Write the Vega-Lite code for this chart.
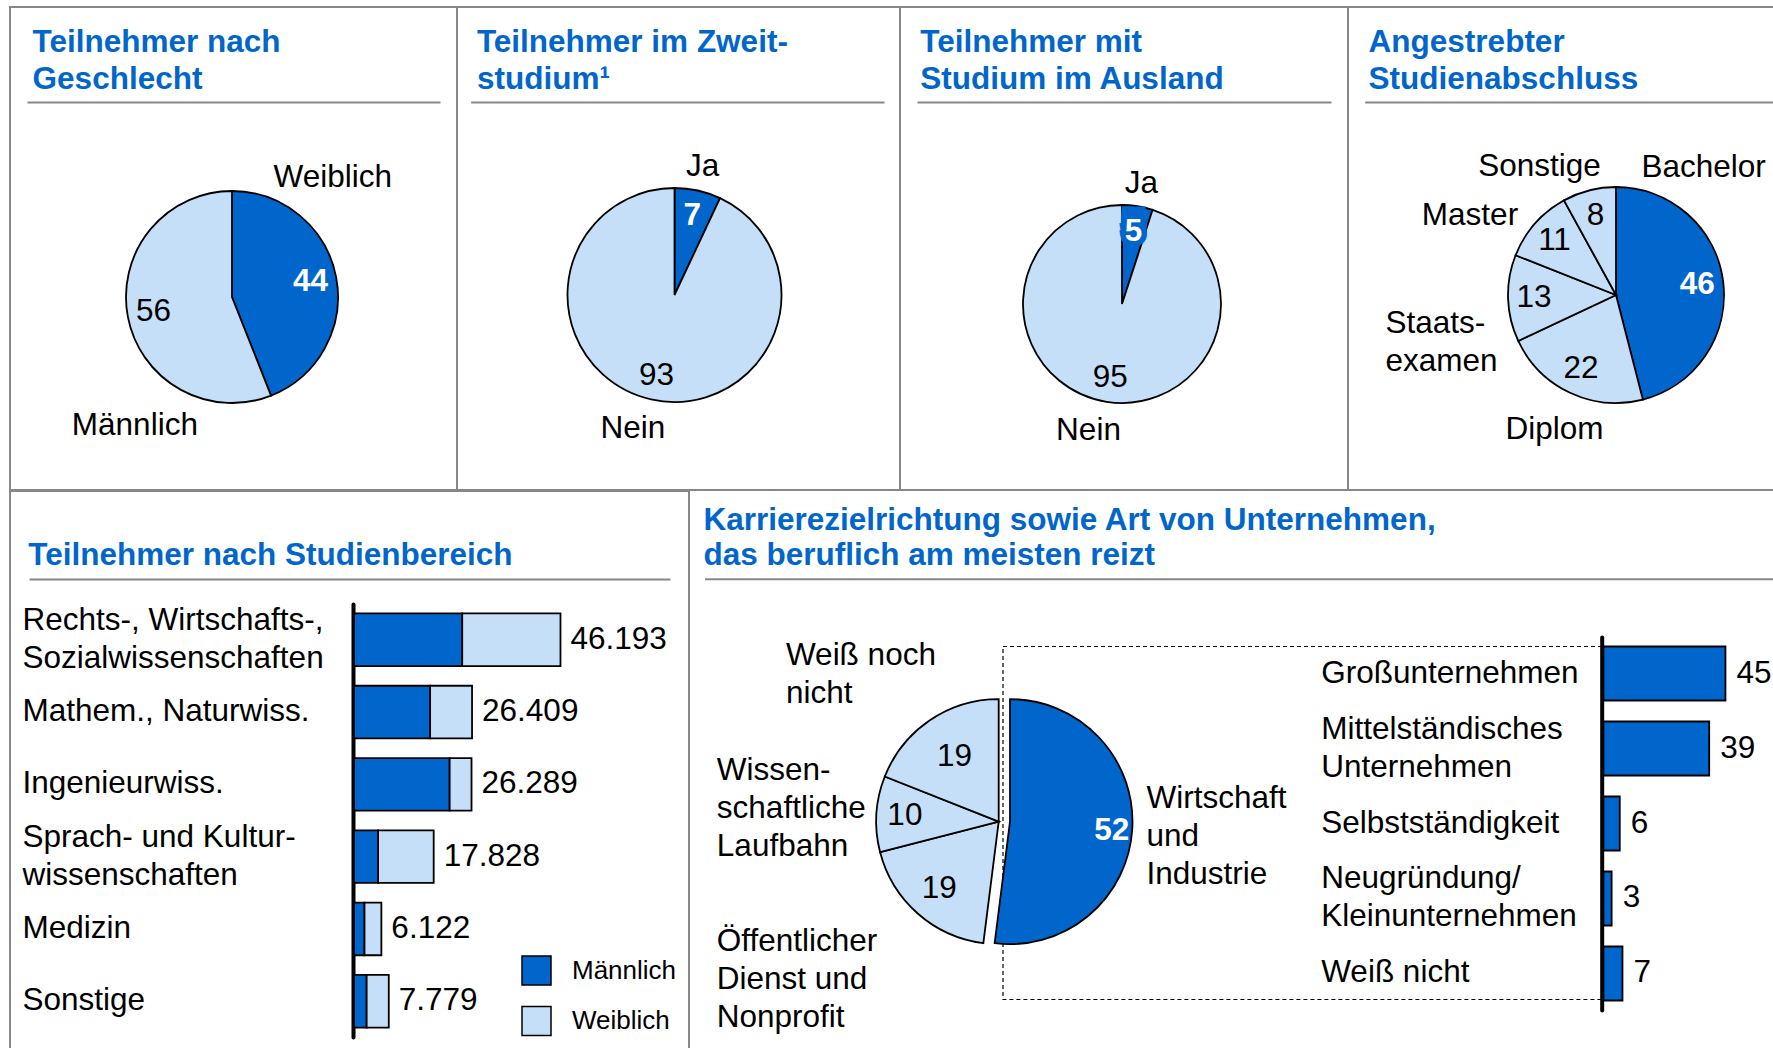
{
  "$schema": "https://vega.github.io/schema/vega-lite/v6.json",
  "background": "white",
  "padding": {"left": 9, "top": 6, "right": 0, "bottom": 0},
  "config": {
    "font": "Liberation Sans",
    "view": {"stroke": "#878787", "strokeWidth": 2},
    "text": {"font": "Liberation Sans", "fontSize": 31.5},
    "arc": {"stroke": "black", "strokeWidth": 1.8},
    "axis": {"labelFont": "Liberation Sans"},
    "legend": {"labelFont": "Liberation Sans"},
    "title": {"font": "Liberation Sans"},
    "locale": {"number": {"decimal": ",", "thousands": ".", "grouping": [3], "currency": ["", " €"]}}
  },
  "datasets": {
    "geschlecht": [
      {"Kategorie": "Weiblich", "Wert": 44, "n": 1},
      {"Kategorie": "Männlich", "Wert": 56, "n": 2}
    ],
    "zweitstudium": [
      {"Kategorie": "Ja", "Wert": 7, "n": 1},
      {"Kategorie": "Nein", "Wert": 93, "n": 2}
    ],
    "ausland": [
      {"Kategorie": "Ja", "Wert": 5, "n": 1},
      {"Kategorie": "Nein", "Wert": 95, "n": 2}
    ],
    "abschluss": [
      {"Kategorie": "Bachelor", "Wert": 46, "n": 1},
      {"Kategorie": "Diplom", "Wert": 22, "n": 2},
      {"Kategorie": "Staats-\nexamen", "Wert": 13, "n": 3},
      {"Kategorie": "Master", "Wert": 11, "n": 4},
      {"Kategorie": "Sonstige", "Wert": 8, "n": 5}
    ],
    "studienbereich": [
      {"Bereich": "Rechts-, Wirtschafts-,\nSozialwissenschaften", "Geschlecht": "Männlich", "Anzahl": 24210},
      {"Bereich": "Rechts-, Wirtschafts-,\nSozialwissenschaften", "Geschlecht": "Weiblich", "Anzahl": 21983},
      {"Bereich": "Mathem., Naturwiss.", "Geschlecht": "Männlich", "Anzahl": 17030},
      {"Bereich": "Mathem., Naturwiss.", "Geschlecht": "Weiblich", "Anzahl": 9379},
      {"Bereich": "Ingenieurwiss.", "Geschlecht": "Männlich", "Anzahl": 21400},
      {"Bereich": "Ingenieurwiss.", "Geschlecht": "Weiblich", "Anzahl": 4889},
      {"Bereich": "Sprach- und Kultur-\nwissenschaften", "Geschlecht": "Männlich", "Anzahl": 5390},
      {"Bereich": "Sprach- und Kultur-\nwissenschaften", "Geschlecht": "Weiblich", "Anzahl": 12438},
      {"Bereich": "Medizin", "Geschlecht": "Männlich", "Anzahl": 2350},
      {"Bereich": "Medizin", "Geschlecht": "Weiblich", "Anzahl": 3772},
      {"Bereich": "Sonstige", "Geschlecht": "Männlich", "Anzahl": 2830},
      {"Bereich": "Sonstige", "Geschlecht": "Weiblich", "Anzahl": 4949}
    ],
    "karriere": [
      {"Kategorie": "Wirtschaft\nund\nIndustrie", "Wert": 52, "n": 1},
      {"Kategorie": "Öffentlicher\nDienst und\nNonprofit", "Wert": 19, "n": 2},
      {"Kategorie": "Wissen-\nschaftliche\nLaufbahn", "Wert": 10, "n": 3},
      {"Kategorie": "Weiß noch\nnicht", "Wert": 19, "n": 4}
    ],
    "unternehmen": [
      {"Kat": "Großunternehmen", "Wert": 45},
      {"Kat": "Mittelständisches\nUnternehmen", "Wert": 39},
      {"Kat": "Selbstständigkeit", "Wert": 6},
      {"Kat": "Neugründung/\nKleinunternehmen", "Wert": 3},
      {"Kat": "Weiß nicht", "Wert": 7}
    ]
  },
  "vconcat": [
    {
      "hconcat": [
        {
          "width": 447, "height": 483,
          "data": {"name": "geschlecht"},
          "title": {"text": ["Teilnehmer nach", "Geschlecht"], "anchor": "start", "frame": "group", "baseline": "top", "offset": 0, "dx": 22.6, "dy": 88.2, "lineHeight": 37, "fontSize": 31.5, "fontWeight": "bold", "color": "#0066CC"},
          "layer": [
            {"mark": {"type": "rule", "opacity": 0}, "encoding": {"x": {"datum": 0, "type": "quantitative", "scale": {"domain": [0, 1], "range": [17, 430]}, "axis": {"orient": "top", "offset": -95, "domainColor": "#878787", "domainWidth": 2, "ticks": false, "labels": false, "grid": false, "title": null}}}},
            {"mark": {"type": "arc", "outerRadius": 106, "xOffset": -1.5, "yOffset": 48.5}, "encoding": {"theta": {"field": "Wert", "type": "quantitative", "stack": true}, "order": {"field": "n", "type": "quantitative"}, "color": {"field": "Kategorie", "type": "nominal", "scale": {"domain": ["Weiblich", "Männlich"], "range": ["#0066CC", "#C6DFF8"]}, "legend": null}}},
            {"mark": {"type": "text", "radius": 80, "xOffset": -1.5, "yOffset": 48.5, "fontWeight": "bold", "color": "white"}, "encoding": {"theta": {"field": "Wert", "type": "quantitative", "stack": true}, "order": {"field": "n", "type": "quantitative"}, "detail": {"field": "Kategorie", "type": "nominal"}, "text": {"condition": {"test": "datum.n === 1", "field": "Wert", "type": "quantitative"}, "value": ""}}},
            {"mark": {"type": "text", "radius": 80, "xOffset": -1.5, "yOffset": 48.5, "color": "black"}, "encoding": {"theta": {"field": "Wert", "type": "quantitative", "stack": true}, "order": {"field": "n", "type": "quantitative"}, "detail": {"field": "Kategorie", "type": "nominal"}, "text": {"condition": {"test": "datum.n === 2", "field": "Wert", "type": "quantitative"}, "value": ""}}},
            {"mark": {"type": "text", "radius": 106, "xOffset": -1.5, "yOffset": 48.5, "dx": -3.4, "dy": -98.9, "color": "black"}, "encoding": {"theta": {"field": "Wert", "type": "quantitative", "stack": true}, "order": {"field": "n", "type": "quantitative"}, "detail": {"field": "Kategorie", "type": "nominal"}, "text": {"condition": {"test": "datum.n === 1", "field": "Kategorie", "type": "nominal"}, "value": ""}}},
            {"mark": {"type": "text", "radius": 106, "xOffset": -1.5, "yOffset": 48.5, "dx": 7, "dy": 109.3, "color": "black"}, "encoding": {"theta": {"field": "Wert", "type": "quantitative", "stack": true}, "order": {"field": "n", "type": "quantitative"}, "detail": {"field": "Kategorie", "type": "nominal"}, "text": {"condition": {"test": "datum.n === 2", "field": "Kategorie", "type": "nominal"}, "value": ""}}}
          ]
        },
        {
          "width": 443, "height": 483,
          "data": {"name": "zweitstudium"},
          "title": {"text": ["Teilnehmer im Zweit-", "studium¹"], "anchor": "start", "frame": "group", "baseline": "top", "offset": 0, "dx": 19.9, "dy": 88.2, "lineHeight": 37, "fontSize": 31.5, "fontWeight": "bold", "color": "#0066CC"},
          "layer": [
            {"mark": {"type": "rule", "opacity": 0}, "encoding": {"x": {"datum": 0, "type": "quantitative", "scale": {"domain": [0, 1], "range": [13.7, 427]}, "axis": {"orient": "top", "offset": -95, "domainColor": "#878787", "domainWidth": 2, "ticks": false, "labels": false, "grid": false, "title": null}}}},
            {"mark": {"type": "arc", "outerRadius": 107, "xOffset": -4, "yOffset": 46.5}, "encoding": {"theta": {"field": "Wert", "type": "quantitative", "stack": true}, "order": {"field": "n", "type": "quantitative"}, "color": {"field": "Kategorie", "type": "nominal", "scale": {"domain": ["Ja", "Nein"], "range": ["#0066CC", "#C6DFF8"]}, "legend": null}}},
            {"mark": {"type": "text", "radius": 81, "xOffset": -4, "yOffset": 46.5, "fontWeight": "bold", "color": "white"}, "encoding": {"theta": {"field": "Wert", "type": "quantitative", "stack": true}, "order": {"field": "n", "type": "quantitative"}, "detail": {"field": "Kategorie", "type": "nominal"}, "text": {"condition": {"test": "datum.n === 1", "field": "Wert", "type": "quantitative"}, "value": ""}}},
            {"mark": {"type": "text", "radius": 83, "xOffset": -4, "yOffset": 46.5, "color": "black"}, "encoding": {"theta": {"field": "Wert", "type": "quantitative", "stack": true}, "order": {"field": "n", "type": "quantitative"}, "detail": {"field": "Kategorie", "type": "nominal"}, "text": {"condition": {"test": "datum.n === 2", "field": "Wert", "type": "quantitative"}, "value": ""}}},
            {"mark": {"type": "text", "radius": 107, "xOffset": -4, "yOffset": 46.5, "dx": 4.7, "dy": -23.6, "color": "black"}, "encoding": {"theta": {"field": "Wert", "type": "quantitative", "stack": true}, "order": {"field": "n", "type": "quantitative"}, "detail": {"field": "Kategorie", "type": "nominal"}, "text": {"condition": {"test": "datum.n === 1", "field": "Kategorie", "type": "nominal"}, "value": ""}}},
            {"mark": {"type": "text", "radius": 107, "xOffset": -4, "yOffset": 46.5, "dx": -18.2, "dy": 30, "color": "black"}, "encoding": {"theta": {"field": "Wert", "type": "quantitative", "stack": true}, "order": {"field": "n", "type": "quantitative"}, "detail": {"field": "Kategorie", "type": "nominal"}, "text": {"condition": {"test": "datum.n === 2", "field": "Kategorie", "type": "nominal"}, "value": ""}}}
          ]
        },
        {
          "width": 448, "height": 483,
          "data": {"name": "ausland"},
          "title": {"text": ["Teilnehmer mit", "Studium im Ausland"], "anchor": "start", "frame": "group", "baseline": "top", "offset": 0, "dx": 20.3, "dy": 88.2, "lineHeight": 37, "fontSize": 31.5, "fontWeight": "bold", "color": "#0066CC"},
          "layer": [
            {"mark": {"type": "rule", "opacity": 0}, "encoding": {"x": {"datum": 0, "type": "quantitative", "scale": {"domain": [0, 1], "range": [17, 431]}, "axis": {"orient": "top", "offset": -95, "domainColor": "#878787", "domainWidth": 2, "ticks": false, "labels": false, "grid": false, "title": null}}}},
            {"mark": {"type": "arc", "outerRadius": 99, "xOffset": -2, "yOffset": 55.5}, "encoding": {"theta": {"field": "Wert", "type": "quantitative", "stack": true}, "order": {"field": "n", "type": "quantitative"}, "color": {"field": "Kategorie", "type": "nominal", "scale": {"domain": ["Ja", "Nein"], "range": ["#0066CC", "#C6DFF8"]}, "legend": null}}},
            {"mark": {"type": "text", "radius": 73, "xOffset": -2, "yOffset": 55.5, "dy": -7, "fontWeight": "bold", "color": "#0066CC", "stroke": "#0066CC", "strokeWidth": 11, "strokeJoin": "miter"}, "encoding": {"theta": {"field": "Wert", "type": "quantitative", "stack": true}, "order": {"field": "n", "type": "quantitative"}, "detail": {"field": "Kategorie", "type": "nominal"}, "text": {"condition": {"test": "datum.n === 1", "field": "Wert", "type": "quantitative"}, "value": ""}}},
            {"mark": {"type": "text", "radius": 73, "xOffset": -2, "yOffset": 55.5, "fontWeight": "bold", "color": "#0066CC", "stroke": "#0066CC", "strokeWidth": 11, "strokeJoin": "miter"}, "encoding": {"theta": {"field": "Wert", "type": "quantitative", "stack": true}, "order": {"field": "n", "type": "quantitative"}, "detail": {"field": "Kategorie", "type": "nominal"}, "text": {"condition": {"test": "datum.n === 1", "field": "Wert", "type": "quantitative"}, "value": ""}}},
            {"mark": {"type": "text", "radius": 73, "xOffset": -2, "yOffset": 55.5, "fontWeight": "bold", "color": "white"}, "encoding": {"theta": {"field": "Wert", "type": "quantitative", "stack": true}, "order": {"field": "n", "type": "quantitative"}, "detail": {"field": "Kategorie", "type": "nominal"}, "text": {"condition": {"test": "datum.n === 1", "field": "Wert", "type": "quantitative"}, "value": ""}}},
            {"mark": {"type": "text", "radius": 75, "xOffset": -2, "yOffset": 55.5, "color": "black"}, "encoding": {"theta": {"field": "Wert", "type": "quantitative", "stack": true}, "order": {"field": "n", "type": "quantitative"}, "detail": {"field": "Kategorie", "type": "nominal"}, "text": {"condition": {"test": "datum.n === 2", "field": "Wert", "type": "quantitative"}, "value": ""}}},
            {"mark": {"type": "text", "radius": 99, "xOffset": -2, "yOffset": 55.5, "dx": 4, "dy": -22.5, "color": "black"}, "encoding": {"theta": {"field": "Wert", "type": "quantitative", "stack": true}, "order": {"field": "n", "type": "quantitative"}, "detail": {"field": "Kategorie", "type": "nominal"}, "text": {"condition": {"test": "datum.n === 1", "field": "Kategorie", "type": "nominal"}, "value": ""}}},
            {"mark": {"type": "text", "radius": 99, "xOffset": -2, "yOffset": 55.5, "dx": -18, "dy": 29.2, "color": "black"}, "encoding": {"theta": {"field": "Wert", "type": "quantitative", "stack": true}, "order": {"field": "n", "type": "quantitative"}, "detail": {"field": "Kategorie", "type": "nominal"}, "text": {"condition": {"test": "datum.n === 2", "field": "Kategorie", "type": "nominal"}, "value": ""}}}
          ]
        },
        {
          "width": 427, "height": 483,
          "data": {"name": "abschluss"},
          "title": {"text": ["Angestrebter", "Studienabschluss"], "anchor": "start", "frame": "group", "baseline": "top", "offset": 0, "dx": 20.6, "dy": 88.2, "lineHeight": 37, "fontSize": 31.5, "fontWeight": "bold", "color": "#0066CC"},
          "layer": [
            {"mark": {"type": "rule", "opacity": 0}, "encoding": {"x": {"datum": 0, "type": "quantitative", "scale": {"domain": [0, 1], "range": [16.7, 427]}, "axis": {"orient": "top", "offset": -95, "domainColor": "#878787", "domainWidth": 2, "ticks": false, "labels": false, "grid": false, "title": null}}}},
            {"mark": {"type": "arc", "outerRadius": 108, "xOffset": 54.5, "yOffset": 46.5}, "encoding": {"theta": {"field": "Wert", "type": "quantitative", "stack": true}, "order": {"field": "n", "type": "quantitative"}, "color": {"field": "Kategorie", "type": "nominal", "scale": {"domain": ["Bachelor", "Diplom", "Staats-\nexamen", "Master", "Sonstige"], "range": ["#0066CC", "#C6DFF8", "#C6DFF8", "#C6DFF8", "#C6DFF8"]}, "legend": null}}},
            {"mark": {"type": "text", "radius": 82, "xOffset": 54.5, "yOffset": 46.5, "fontWeight": "bold", "color": "white"}, "encoding": {"theta": {"field": "Wert", "type": "quantitative", "stack": true}, "order": {"field": "n", "type": "quantitative"}, "detail": {"field": "Kategorie", "type": "nominal"}, "text": {"condition": {"test": "datum.n === 1", "field": "Wert", "type": "quantitative"}, "value": ""}}},
            {"mark": {"type": "text", "radius": 82, "xOffset": 54.5, "yOffset": 46.5, "color": "black"}, "encoding": {"theta": {"field": "Wert", "type": "quantitative", "stack": true}, "order": {"field": "n", "type": "quantitative"}, "detail": {"field": "Kategorie", "type": "nominal"}, "text": {"condition": {"test": "datum.n > 1", "field": "Wert", "type": "quantitative"}, "value": ""}}},
            {"mark": {"type": "text", "radius": 108, "xOffset": 54.5, "yOffset": 46.5, "dx": -19.5, "dy": -113.5, "color": "black"}, "encoding": {"theta": {"field": "Wert", "type": "quantitative", "stack": true}, "order": {"field": "n", "type": "quantitative"}, "detail": {"field": "Kategorie", "type": "nominal"}, "text": {"condition": {"test": "datum.n === 1", "field": "Kategorie", "type": "nominal"}, "value": ""}}},
            {"mark": {"type": "text", "radius": 108, "xOffset": 54.5, "yOffset": 46.5, "dx": -15.6, "dy": 37, "color": "black"}, "encoding": {"theta": {"field": "Wert", "type": "quantitative", "stack": true}, "order": {"field": "n", "type": "quantitative"}, "detail": {"field": "Kategorie", "type": "nominal"}, "text": {"condition": {"test": "datum.n === 2", "field": "Kategorie", "type": "nominal"}, "value": ""}}},
            {"mark": {"type": "text", "radius": 108, "xOffset": 54.5, "yOffset": 46.5, "dx": -122.6, "dy": 26, "align": "left", "lineBreak": "\n", "lineHeight": 38, "color": "black"}, "encoding": {"theta": {"field": "Wert", "type": "quantitative", "stack": true}, "order": {"field": "n", "type": "quantitative"}, "detail": {"field": "Kategorie", "type": "nominal"}, "text": {"condition": {"test": "datum.n === 3", "field": "Kategorie", "type": "nominal"}, "value": ""}}},
            {"mark": {"type": "text", "radius": 108, "xOffset": 54.5, "yOffset": 46.5, "dx": -65, "dy": -7.3, "color": "black"}, "encoding": {"theta": {"field": "Wert", "type": "quantitative", "stack": true}, "order": {"field": "n", "type": "quantitative"}, "detail": {"field": "Kategorie", "type": "nominal"}, "text": {"condition": {"test": "datum.n === 4", "field": "Kategorie", "type": "nominal"}, "value": ""}}},
            {"mark": {"type": "text", "radius": 108, "xOffset": 54.5, "yOffset": 46.5, "dx": -49.6, "dy": -23.4, "color": "black"}, "encoding": {"theta": {"field": "Wert", "type": "quantitative", "stack": true}, "order": {"field": "n", "type": "quantitative"}, "detail": {"field": "Kategorie", "type": "nominal"}, "text": {"condition": {"test": "datum.n === 5", "field": "Kategorie", "type": "nominal"}, "value": ""}}}
          ]
        }
      ],
      "spacing": 0,
      "bounds": "flush",
      "resolve": {"scale": {"color": "independent"}, "legend": {"color": "independent"}}
    },
    {
      "hconcat": [
        {
          "width": 679, "height": 560,
          "data": {"name": "studienbereich"},
          "title": {"text": "Teilnehmer nach Studienbereich", "anchor": "start", "frame": "group", "baseline": "top", "offset": 0, "dx": 18.3, "dy": 80.5, "fontSize": 31.5, "fontWeight": "bold", "color": "#0066CC"},
          "layer": [
            {"mark": {"type": "rule", "opacity": 0}, "encoding": {"x": {"datum": 0, "type": "quantitative", "scale": {"domain": [0, 1], "range": [19, 660]}, "axis": {"orient": "top", "offset": -88, "domainColor": "#878787", "domainWidth": 2, "ticks": false, "labels": false, "grid": false, "title": null}}}},
            {
              "layer": [
                {
                  "transform": [{"stack": "Anzahl", "groupby": ["Bereich"], "sort": [{"field": "Geschlecht", "order": "ascending"}], "as": ["Anfang", "Ende"]}],
                  "mark": {"type": "bar", "stroke": "black", "strokeWidth": 1.8},
                  "encoding": {
                    "y": {"field": "Bereich", "type": "nominal", "sort": null, "title": null, "scale": {"range": [113, 546], "paddingInner": 0.272, "paddingOuter": 0.131},
                      "axis": {"orient": "left", "offset": -343, "domainColor": "black", "domainWidth": 4, "domainCap": "round", "ticks": false, "grid": false, "labelAlign": "left", "labelBaseline": "middle", "labelPadding": 331, "labelFontSize": 31.5, "labelColor": "black", "labelLimit": 600, "labelOverlap": false, "labelLineHeight": 38, "labelExpr": "split(datum.label, '\\n')", "labelOffset": {"condition": {"test": "indexof(datum.value, '\\n') >= 0", "value": -19}, "value": 0}, "title": null}},
                    "x": {"field": "Anfang", "type": "quantitative", "scale": {"domain": [0, 50000], "range": [344, 567.5]}, "axis": null},
                    "x2": {"field": "Ende"},
                    "color": {"field": "Geschlecht", "type": "nominal", "scale": {"domain": ["Männlich", "Weiblich"], "range": ["#0066CC", "#C6DFF8"]},
                      "legend": {"orient": "bottom-right", "offset": 12.5, "padding": 0, "title": null, "symbolType": "square", "symbolSize": 841, "symbolStrokeColor": "black", "symbolStrokeWidth": 1.5, "labelFontSize": 26, "labelColor": "black", "labelOffset": 20, "rowPadding": 15.5, "direction": "vertical"}}
                  }
                },
                {
                  "transform": [{"aggregate": [{"op": "sum", "field": "Anzahl", "as": "Gesamt"}], "groupby": ["Bereich"]}],
                  "mark": {"type": "text", "align": "left", "dx": 10, "color": "black"},
                  "encoding": {
                    "y": {"field": "Bereich", "type": "nominal", "sort": null},
                    "x": {"field": "Gesamt", "type": "quantitative"},
                    "text": {"field": "Gesamt", "type": "quantitative", "format": ",d"}
                  }
                }
              ]
            }
          ],
          "resolve": {"scale": {"x": "independent"}, "axis": {"x": "independent"}}
        },
        {
          "width": 1084, "height": 560,
          "view": {"stroke": null},
          "title": {"text": ["Karrierezielrichtung sowie Art von Unternehmen,", "das beruflich am meisten reizt"], "anchor": "start", "frame": "group", "baseline": "top", "offset": 0, "dx": 14.4, "dy": 80.4, "lineHeight": 35, "fontSize": 31.5, "fontWeight": "bold", "color": "#0066CC"},
          "layer": [
            {"data": {"name": "karriere"}, "mark": {"type": "rule", "opacity": 0}, "encoding": {"x": {"datum": 0, "type": "quantitative", "scale": {"domain": [0, 1], "range": [15.5, 1084]}, "axis": {"orient": "top", "offset": -87.8, "domainColor": "#878787", "domainWidth": 2, "ticks": false, "labels": false, "grid": false, "title": null}}}},
            {"data": {"name": "unternehmen"}, "transform": [{"aggregate": [{"op": "count", "as": "anzahl"}]}],
              "mark": {"type": "rect", "filled": false, "color": "black", "strokeWidth": 1.2, "strokeDash": [4, 3]},
              "encoding": {
                "x": {"datum": 0, "type": "quantitative", "scale": {"domain": [0, 1], "range": [314, 912.7]}, "axis": null},
                "x2": {"datum": 1},
                "y": {"datum": "Verbindung", "type": "nominal", "scale": {"domain": ["Verbindung"], "range": [155.5, 508.5], "paddingInner": 0, "paddingOuter": 0}, "axis": null}
              }
            },
            {"data": {"name": "karriere"}, "mark": {"type": "arc", "outerRadius": 122.5, "xOffset": -232.3, "yOffset": 50.6}, "encoding": {"theta": {"field": "Wert", "type": "quantitative", "stack": true}, "order": {"field": "n", "type": "quantitative"}, "color": {"field": "Kategorie", "type": "nominal", "scale": {"domain": ["Wirtschaft\nund\nIndustrie", "Öffentlicher\nDienst und\nNonprofit", "Wissen-\nschaftliche\nLaufbahn", "Weiß noch\nnicht"], "range": ["#0066CC", "#C6DFF8", "#C6DFF8", "#C6DFF8"]}, "legend": null}, "opacity": {"condition": {"test": "datum.n === 1", "value": 0}, "value": 1}}},
            {"data": {"name": "karriere"}, "mark": {"type": "arc", "outerRadius": 122.5, "xOffset": -221, "yOffset": 50.6}, "encoding": {"theta": {"field": "Wert", "type": "quantitative", "stack": true}, "order": {"field": "n", "type": "quantitative"}, "color": {"field": "Kategorie", "type": "nominal", "scale": {"domain": ["Wirtschaft\nund\nIndustrie", "Öffentlicher\nDienst und\nNonprofit", "Wissen-\nschaftliche\nLaufbahn", "Weiß noch\nnicht"], "range": ["#0066CC", "#C6DFF8", "#C6DFF8", "#C6DFF8"]}, "legend": null}, "opacity": {"condition": {"test": "datum.n === 1", "value": 1}, "value": 0}}},
            {"data": {"name": "karriere"}, "mark": {"type": "text", "radius": 102, "xOffset": -221, "yOffset": 50.6, "dy": 3, "fontWeight": "bold", "color": "white"}, "encoding": {"theta": {"field": "Wert", "type": "quantitative", "stack": true}, "order": {"field": "n", "type": "quantitative"}, "detail": {"field": "Kategorie", "type": "nominal"}, "text": {"condition": {"test": "datum.n === 1", "field": "Wert", "type": "quantitative"}, "value": ""}}},
            {"data": {"name": "karriere"}, "mark": {"type": "text", "radius": 78.5, "xOffset": -232.3, "yOffset": 50.6, "color": "black"}, "encoding": {"theta": {"field": "Wert", "type": "quantitative", "stack": true}, "order": {"field": "n", "type": "quantitative"}, "detail": {"field": "Kategorie", "type": "nominal"}, "text": {"condition": {"test": "datum.n === 4", "field": "Wert", "type": "quantitative"}, "value": ""}}},
            {"data": {"name": "karriere"}, "mark": {"type": "text", "radius": 94, "xOffset": -232.3, "yOffset": 50.6, "color": "black"}, "encoding": {"theta": {"field": "Wert", "type": "quantitative", "stack": true}, "order": {"field": "n", "type": "quantitative"}, "detail": {"field": "Kategorie", "type": "nominal"}, "text": {"condition": {"test": "datum.n === 3", "field": "Wert", "type": "quantitative"}, "value": ""}}},
            {"data": {"name": "karriere"}, "mark": {"type": "text", "radius": 90, "xOffset": -232.3, "yOffset": 50.6, "color": "black"}, "encoding": {"theta": {"field": "Wert", "type": "quantitative", "stack": true}, "order": {"field": "n", "type": "quantitative"}, "detail": {"field": "Kategorie", "type": "nominal"}, "text": {"condition": {"test": "datum.n === 2", "field": "Wert", "type": "quantitative"}, "value": ""}}},
            {"data": {"name": "karriere"}, "mark": {"type": "text", "radius": 122.5, "xOffset": -232.3, "yOffset": 50.6, "dx": -143.9, "dy": -64.6, "align": "left", "lineBreak": "\n", "lineHeight": 38, "color": "black"}, "encoding": {"theta": {"field": "Wert", "type": "quantitative", "stack": true}, "order": {"field": "n", "type": "quantitative"}, "detail": {"field": "Kategorie", "type": "nominal"}, "text": {"condition": {"test": "datum.n === 4", "field": "Kategorie", "type": "nominal"}, "value": ""}}},
            {"data": {"name": "karriere"}, "mark": {"type": "text", "radius": 122.5, "xOffset": -232.3, "yOffset": 50.6, "dx": -159.6, "dy": -43.2, "align": "left", "lineBreak": "\n", "lineHeight": 38, "color": "black"}, "encoding": {"theta": {"field": "Wert", "type": "quantitative", "stack": true}, "order": {"field": "n", "type": "quantitative"}, "detail": {"field": "Kategorie", "type": "nominal"}, "text": {"condition": {"test": "datum.n === 3", "field": "Kategorie", "type": "nominal"}, "value": ""}}},
            {"data": {"name": "karriere"}, "mark": {"type": "text", "radius": 122.5, "xOffset": -232.3, "yOffset": 50.6, "dx": -200.9, "dy": 28.5, "align": "left", "lineBreak": "\n", "lineHeight": 38, "color": "black"}, "encoding": {"theta": {"field": "Wert", "type": "quantitative", "stack": true}, "order": {"field": "n", "type": "quantitative"}, "detail": {"field": "Kategorie", "type": "nominal"}, "text": {"condition": {"test": "datum.n === 2", "field": "Kategorie", "type": "nominal"}, "value": ""}}},
            {"data": {"name": "karriere"}, "mark": {"type": "text", "radius": 122.5, "xOffset": -221, "yOffset": 50.6, "dx": 14.3, "dy": -30.5, "align": "left", "lineBreak": "\n", "lineHeight": 38, "color": "black"}, "encoding": {"theta": {"field": "Wert", "type": "quantitative", "stack": true}, "order": {"field": "n", "type": "quantitative"}, "detail": {"field": "Kategorie", "type": "nominal"}, "text": {"condition": {"test": "datum.n === 1", "field": "Kategorie", "type": "nominal"}, "value": ""}}},
            {
              "data": {"name": "unternehmen"},
              "layer": [
                {
                  "mark": {"type": "bar", "color": "#0066CC", "stroke": "black", "strokeWidth": 1.8},
                  "encoding": {
                    "y": {"field": "Kat", "type": "nominal", "sort": null, "title": null, "scale": {"range": [146, 519], "paddingInner": 0.28, "paddingOuter": 0.127},
                      "axis": {"orient": "left", "offset": -912.7, "domainColor": "black", "domainWidth": 4, "domainCap": "round", "ticks": false, "grid": false, "labelAlign": "left", "labelBaseline": "middle", "labelPadding": 281, "labelFontSize": 31.5, "labelColor": "black", "labelLimit": 600, "labelOverlap": false, "labelLineHeight": 38, "labelExpr": "split(datum.label, '\\n')", "labelOffset": {"condition": {"test": "indexof(datum.value, '\\n') >= 0", "value": -19}, "value": 0}, "title": null}},
                    "x": {"field": "Wert", "type": "quantitative", "scale": {"domain": [0, 50], "range": [914.5, 1050]}, "axis": null}
                  }
                },
                {
                  "mark": {"type": "text", "align": "left", "dx": 11, "color": "black"},
                  "encoding": {
                    "y": {"field": "Kat", "type": "nominal", "sort": null},
                    "x": {"field": "Wert", "type": "quantitative"},
                    "text": {"field": "Wert", "type": "quantitative"}
                  }
                }
              ]
            }
          ],
          "resolve": {"scale": {"x": "independent", "y": "independent"}, "axis": {"x": "independent", "y": "independent"}}
        }
      ],
      "spacing": 0,
      "bounds": "flush",
      "resolve": {"scale": {"color": "independent"}, "legend": {"color": "independent"}}
    }
  ],
  "spacing": -2,
  "bounds": "full",
  "resolve": {"scale": {"color": "independent"}, "legend": {"color": "independent"}}
}
